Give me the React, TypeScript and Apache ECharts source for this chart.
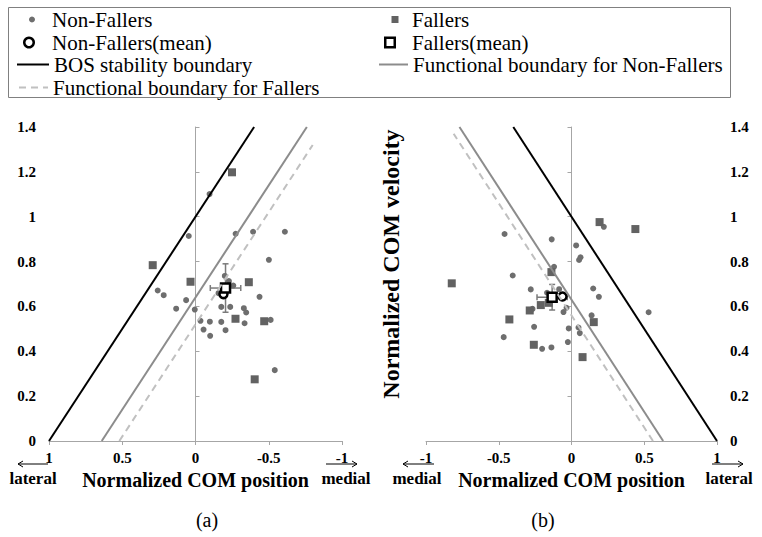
import React, { useEffect, useRef } from "react";
import * as echarts from "echarts";

// ---------- data ----------
// (a) left panel: x axis runs from lateral (1) to medial (-1)
const nonFallersA: number[][] = [
  [-0.096, 1.101], [0.046, 0.914], [-0.274, 0.924], [-0.393, 0.933], [-0.61, 0.933], [-0.501, 0.808],
  [0.258, 0.671], [0.217, 0.65], [0.064, 0.628], [0.132, 0.59], [0.005, 0.586],
  [-0.2, 0.736], [-0.228, 0.713], [-0.258, 0.693], [-0.437, 0.643], [-0.157, 0.659],
  [-0.176, 0.598], [-0.237, 0.598], [-0.33, 0.592], [-0.346, 0.573], [-0.513, 0.54],
  [-0.034, 0.536], [-0.098, 0.532], [-0.176, 0.531], [-0.335, 0.525],
  [-0.055, 0.497], [-0.205, 0.494], [-0.1, 0.469], [-0.541, 0.316],
];
const fallersA: number[][] = [
  [-0.249, 1.198], [0.292, 0.784], [0.034, 0.71], [-0.364, 0.708], [-0.273, 0.545], [-0.469, 0.534], [-0.404, 0.275],
];
const nonFallersMeanA: number[][] = [[-0.191, 0.655]];
const fallersMeanA: number[][] = [[-0.205, 0.682]];
const fallersErrA: number[][] = [[-0.205, 0.682, 0.104, 0.108]]; // x, y, x error, y error
const bosA: number[][] = [[1, 0], [-0.4, 1.4]];
const funcNonFallersA: number[][] = [[0.64, 0], [-0.76, 1.4]];
const funcFallersA: number[][] = [[0.52, 0], [-0.8, 1.32]];

// (b) right panel: x axis runs from medial (-1) to lateral (1)
const nonFallersB: number[][] = [
  [-0.46, 0.923], [-0.136, 0.899], [0.032, 0.872], [0.062, 0.819], [0.052, 0.807], [0.222, 0.955],
  [-0.12, 0.777], [-0.404, 0.738], [-0.28, 0.676], [-0.085, 0.677], [-0.168, 0.661], [0.149, 0.68],
  [0.188, 0.643], [-0.268, 0.589], [-0.034, 0.594], [-0.055, 0.575], [0.138, 0.56], [0.53, 0.574],
  [-0.019, 0.502], [0.048, 0.506], [0.057, 0.481], [-0.257, 0.509], [-0.466, 0.463], [-0.025, 0.441],
  [-0.202, 0.411], [-0.138, 0.417],
];
const fallersB: number[][] = [
  [0.193, 0.976], [0.439, 0.945], [-0.138, 0.753], [-0.823, 0.703], [-0.156, 0.616], [-0.211, 0.606],
  [-0.287, 0.582], [-0.427, 0.542], [0.153, 0.53], [-0.259, 0.429], [0.076, 0.374],
];
const nonFallersMeanB: number[][] = [[-0.062, 0.644]];
const fallersMeanB: number[][] = [[-0.133, 0.641]];
const fallersErrB: number[][] = [[-0.133, 0.641, 0.104, 0.057]];
const bosB: number[][] = [[1, 0], [-0.4, 1.4]];
const funcNonFallersB: number[][] = [[0.63, 0], [-0.77, 1.4]];
const funcFallersB: number[][] = [[0.56, 0], [-0.81, 1.37]];

const X_MIN = -1;
const X_MAX = 1;
const X_STEP = 0.5;
const Y_MIN = 0;
const Y_MAX = 1.4;
const Y_STEP = 0.2;

const NAMES = {
  nf: "Non-Fallers",
  f: "Fallers",
  nfm: "Non-Fallers(mean)",
  fm: "Fallers(mean)",
  bos: "BOS stability boundary",
  fnf: "Functional boundary for Non-Fallers",
  ff: "Functional boundary for Fallers",
};

const SERIF = "Liberation Serif";
const AXIS_GRAY = "#a6a6a6";
const POINT_GRAY = "#6e6e6e";
const SQUARE_GRAY = "#626262";
const SOLID_GRAY = "#8c8c8c";
const DASH_GRAY = "#c0c0c0";
const SQUARE_ICON = "path://M0,0 L10,0 L10,10 L0,10 Z";

function panelSeries(
  xi: number,
  yi: number,
  d: {
    nf: number[][]; f: number[][]; nfm: number[][]; fm: number[][]; err: number[][];
    bos: number[][]; fnf: number[][]; ff: number[][];
  }
) {
  const common = { xAxisIndex: xi, yAxisIndex: yi };
  return [
    {
      ...common, type: "line", name: NAMES.bos, data: d.bos, symbol: "none",
      lineStyle: { color: "#000", width: 2 }, itemStyle: { color: "#000" },
    },
    {
      ...common, type: "line", name: NAMES.fnf, data: d.fnf, symbol: "none",
      lineStyle: { color: SOLID_GRAY, width: 2 }, itemStyle: { color: SOLID_GRAY },
    },
    {
      ...common, type: "line", name: NAMES.ff, data: d.ff, symbol: "none",
      lineStyle: { color: DASH_GRAY, width: 2, type: [7, 5] }, itemStyle: { color: DASH_GRAY },
    },
    {
      ...common, type: "scatter", name: NAMES.nf, data: d.nf, symbol: "circle", symbolSize: 6,
      itemStyle: { color: POINT_GRAY, opacity: 1 },
    },
    {
      ...common, type: "scatter", name: NAMES.f, data: d.f, symbol: "rect", symbolSize: 8,
      itemStyle: { color: SQUARE_GRAY, opacity: 1 },
    },
    {
      ...common, type: "custom", name: "error bars", data: d.err, silent: true,
      encode: { x: 0, y: 1 },
      renderItem: (_p: any, api: any) => {
        const x = api.value(0), y = api.value(1), ex = api.value(2), ey = api.value(3);
        const l = api.coord([x - ex, y]);
        const r = api.coord([x + ex, y]);
        const t = api.coord([x, y + ey]);
        const b = api.coord([x, y - ey]);
        const c = 3;
        const style = { stroke: "#7a7a7a", lineWidth: 1.5 };
        return {
          type: "group",
          children: [
            { type: "line", shape: { x1: l[0], y1: l[1], x2: r[0], y2: r[1] }, style },
            { type: "line", shape: { x1: t[0], y1: t[1], x2: b[0], y2: b[1] }, style },
            { type: "line", shape: { x1: l[0], y1: l[1] - c, x2: l[0], y2: l[1] + c }, style },
            { type: "line", shape: { x1: r[0], y1: r[1] - c, x2: r[0], y2: r[1] + c }, style },
            { type: "line", shape: { x1: t[0] - c, y1: t[1], x2: t[0] + c, y2: t[1] }, style },
            { type: "line", shape: { x1: b[0] - c, y1: b[1], x2: b[0] + c, y2: b[1] }, style },
          ],
        };
      },
    },
    {
      ...common, type: "scatter", name: NAMES.nfm, data: d.nfm, symbol: "circle", symbolSize: 8,
      itemStyle: { color: "#fff", borderColor: "#000", borderWidth: 2.5, opacity: 1 },
    },
    {
      ...common, type: "scatter", name: NAMES.fm, data: d.fm, symbol: "rect", symbolSize: 9,
      itemStyle: { color: "#fff", borderColor: "#000", borderWidth: 2.5, opacity: 1 },
    },
  ];
}

const tickLabel = { fontFamily: SERIF, fontWeight: "bold", fontSize: 15, color: "#000" };

function xAxisFor(grid: number, inverse: boolean) {
  return {
    type: "value", gridIndex: grid, min: X_MIN, max: X_MAX, interval: X_STEP, inverse,
    name: "Normalized COM position", nameLocation: "middle", nameGap: 25,
    nameTextStyle: { fontFamily: SERIF, fontWeight: "bold", fontSize: 20, color: "#000" },
    axisLine: { show: true, onZero: false, lineStyle: { color: AXIS_GRAY, width: 1 } },
    axisTick: { show: true, length: 4, lineStyle: { color: AXIS_GRAY } },
    axisLabel: { ...tickLabel, margin: 9 },
    splitLine: { show: false },
  };
}

function yLabelAxis(grid: number, position: string) {
  return {
    type: "value", gridIndex: grid, min: Y_MIN, max: Y_MAX, interval: Y_STEP, position,
    axisLine: { show: false, onZero: false },
    axisTick: { show: false },
    axisLabel: { ...tickLabel, margin: 13 },
    splitLine: { show: false },
  };
}

function yZeroAxis(grid: number, position: string) {
  return {
    type: "value", gridIndex: grid, min: Y_MIN, max: Y_MAX, interval: Y_STEP, position,
    axisLine: { show: true, onZero: true, lineStyle: { color: AXIS_GRAY, width: 1 } },
    axisTick: { show: true, length: 4, lineStyle: { color: AXIS_GRAY } },
    axisLabel: { show: false },
    splitLine: { show: false },
  };
}

const legendText = { fontFamily: SERIF, fontSize: 21, color: "#000" };
// left = left edge of the visible icon (the legend is placed by its bounding box)
function legendItem(name: string, left: number, centerY: number, w: number, h: number, extra: any = {}) {
  return {
    data: [name], left, top: centerY - 11, itemWidth: w, itemHeight: h, padding: 0,
    textStyle: legendText, ...extra,
  };
}
const hiddenSymbol = { itemStyle: { opacity: 0 } };

function arrow(x1: number, x2: number, y: number) {
  // line from x1 to x2, head at x2
  const dir = x2 > x1 ? 1 : -1;
  return {
    type: "group",
    children: [
      { type: "line", shape: { x1, y1: y, x2, y2: y }, style: { stroke: "#000", lineWidth: 1 } },
      {
        type: "polyline",
        shape: { points: [[x2 - dir * 5, y - 3], [x2, y], [x2 - dir * 5, y + 3]] },
        style: { stroke: "#000", lineWidth: 1, fill: "none" },
      },
    ],
  };
}

function label(text: string, x: number, y: number, font: string, extra: any = {}) {
  return {
    type: "text", x, y, ...extra,
    style: { text, font, fill: "#000", align: "center", verticalAlign: "middle" },
  };
}

export default function App() {
  const ref = useRef<HTMLDivElement>(null);
  useEffect(() => {
    if (!ref.current) return;
    const chart = echarts.init(ref.current, undefined, { renderer: "svg" });
    const meanStyle = { color: "#fff", borderColor: "#000", borderWidth: 2.5 };
    chart.setOption({
      animation: false,
      backgroundColor: "#fff",
      grid: [
        { left: 49, top: 127, width: 293, height: 314 },
        { left: 426, top: 127, width: 291, height: 314 },
      ],
      xAxis: [xAxisFor(0, true), xAxisFor(1, false)],
      yAxis: [
        yLabelAxis(0, "left"),
        yZeroAxis(0, "right"),
        yLabelAxis(1, "right"),
        yZeroAxis(1, "left"),
      ],
      legend: [
        legendItem(NAMES.nf, 29, 20, 30, 6),
        legendItem(NAMES.nfm, 23, 43, 36, 9.5, { itemStyle: meanStyle }),
        legendItem(NAMES.bos, 16, 65, 32, 14, hiddenSymbol),
        legendItem(NAMES.ff, 18, 88, 29, 14, hiddenSymbol),
        legendItem(NAMES.f, 391.5, 20, 24, 7, { icon: SQUARE_ICON }),
        legendItem(NAMES.fm, 384, 43, 34, 9.5, { icon: SQUARE_ICON, itemStyle: meanStyle }),
        legendItem(NAMES.fnf, 378, 65, 29, 14, hiddenSymbol),
      ],
      graphic: [
        {
          type: "rect", shape: { x: 8.5, y: 7.5, width: 722, height: 90 },
          style: { fill: "none", stroke: "#808080", lineWidth: 1 },
        },
        label("Normalized COM velocity", 391, 264, `bold 24px ${SERIF}`, { rotation: Math.PI / 2 }),
        label("lateral", 33, 478, `bold 17px ${SERIF}`),
        label("medial", 346, 478, `bold 17px ${SERIF}`),
        label("medial", 417, 478, `bold 17px ${SERIF}`),
        label("lateral", 729, 478, `bold 17px ${SERIF}`),
        arrow(48, 18, 464),
        arrow(326, 357, 464),
        arrow(434, 403, 464),
        arrow(712, 743, 464),
        label("(a)", 207, 520, `20px ${SERIF}`),
        label("(b)", 543, 520, `20px ${SERIF}`),
      ],
      series: [
        ...panelSeries(0, 1, {
          nf: nonFallersA, f: fallersA, nfm: nonFallersMeanA, fm: fallersMeanA, err: fallersErrA,
          bos: bosA, fnf: funcNonFallersA, ff: funcFallersA,
        }),
        ...panelSeries(1, 3, {
          nf: nonFallersB, f: fallersB, nfm: nonFallersMeanB, fm: fallersMeanB, err: fallersErrB,
          bos: bosB, fnf: funcNonFallersB, ff: funcFallersB,
        }),
      ],
    });
    return () => chart.dispose();
  }, []);
  return <div ref={ref} style={{ width: 762, height: 537, position: "absolute", left: 0, top: 0 }} />;
}
